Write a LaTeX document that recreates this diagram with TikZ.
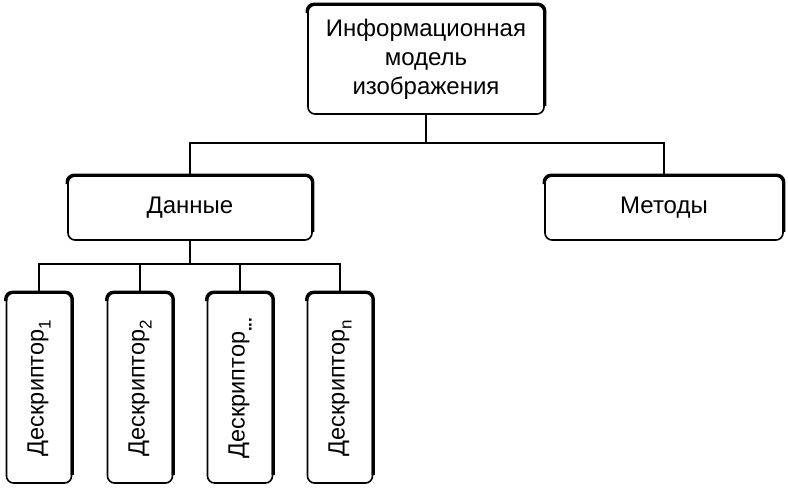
\documentclass[tikz,border=0pt]{standalone}
\usepackage{fontspec}
\setmainfont{Liberation Sans}
\newcommand\dsub[1]{\raisebox{-7pt}{\fontsize{17}{17}\selectfont #1}}
\newcommand\thickedges[1]{\draw[line width=3.2pt, rounded corners=7pt]
  ([yshift=-9pt]#1.north west) -- (#1.north west) -- (#1.north east) -- ([yshift=9pt]#1.south east);}
\begin{document}
\begin{tikzpicture}[x=1pt,y=-1pt,
  box/.style={draw, rounded corners=7pt, line width=1.6pt, inner sep=0pt, align=center,
    font=\fontsize{24}{29}\selectfont, text=black},
  desc/.style={box, minimum width=65pt, minimum height=190pt},
  dtext/.style={rotate=90, font=\fontsize{23.5}{23.5}\selectfont, text=black},
  conn/.style={line width=1.7pt},
  drop/.style={line width=2.4pt}]
\useasboundingbox (0,0) rectangle (788,490);
\node[box, minimum width=236pt, minimum height=109pt] (top) at (426,59.5) {Информационная\\модель\\изображения};
\node[box, minimum width=244pt, minimum height=64pt] (data) at (190,208) {Данные};
\node[box, minimum width=238pt, minimum height=64pt] (meth) at (664,208) {Методы};
\node[desc, label={[dtext]center:Дескриптор\dsub{1}}] (d1) at (39,388) {};
\node[desc, label={[dtext]center:Дескриптор\dsub{2}}] (d2) at (140,388) {};
\node[desc, label={[dtext]center:Дескриптор\dsub{\textbf{...}}}] (d3) at (240,388) {};
\node[desc, label={[dtext]center:Дескриптор\dsub{n}}] (d4) at (340,388) {};
\foreach \n in {top,data,meth,d1,d2,d3,d4} {\thickedges{\n}}
\coordinate (j1) at (426,143);
\coordinate (j2) at (190,264);
\draw[conn] (top.south) -- (j1);
\draw[conn] (data.north) -- (data.north |- j1) -- (meth.north |- j1) -- (meth.north);
\draw[conn] (data.south) -- (j2);
\draw[conn] (d1.north) -- (d1.north |- j2) -- (d4.north |- j2) -- (d4.north);
\draw[drop] (d2.north) -- (d2.north |- j2);
\draw[drop] (d3.north) -- (d3.north |- j2);
\end{tikzpicture}
\end{document}
